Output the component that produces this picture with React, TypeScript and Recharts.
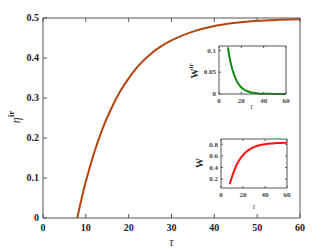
import { LineChart, Line, XAxis, YAxis, Label } from 'recharts'

// tau grid shared by all three curves
const tau = [8, 9, 10, 12, 14, 16, 18, 20, 22, 25, 28, 30, 35, 40, 45, 50, 55, 60]
const etaIr = [0, 0.048, 0.091, 0.165, 0.226, 0.275, 0.316, 0.349, 0.377, 0.409, 0.432, 0.444, 0.466, 0.48, 0.488, 0.493, 0.4955, 0.497]
const wIr = [0.107, 0.091, 0.077, 0.056, 0.041, 0.029, 0.021, 0.015, 0.011, 0.0068, 0.0042, 0.003, 0.0013, 0.0006, 0.0003, 0.0001, 0.00005, 0.00002]
const w = [0.11, 0.178, 0.24, 0.347, 0.435, 0.507, 0.565, 0.613, 0.652, 0.698, 0.733, 0.75, 0.782, 0.8, 0.813, 0.819, 0.823, 0.826]

const mainXTicks = [0, 10, 20, 30, 40, 50, 60]
const mainYTicks = [0, 0.1, 0.2, 0.3, 0.4, 0.5]
const insetXTicks = [0, 20, 40, 60]
const wIrTicks = [0, 0.05, 0.1]
const wTicks = [0.2, 0.4, 0.6, 0.8]

const data = tau.map((t, i) => ({ tau: t, eta: etaIr[i], wir: wIr[i], w: w[i] }))

const serif = '"Liberation Serif", "DejaVu Serif", serif'
const axisColor = '#555'
const noTick = () => <g />

// tick label renderers: side = 'x' (below axis) or 'y' (left of axis)
const makeTick = (size: number, side: 'x' | 'y', color: string) => (props: any) => {
    const { x, y, payload } = props
    if (side === 'x') {
        return (
            <text x={x} y={y} dy={size * 0.8} textAnchor="middle" fontFamily={serif} fontWeight={700} fontSize={size} fill={color}>
                {payload.value}
            </text>
        )
    }
    return (
        <text x={x} y={y} dy={size * 0.33} textAnchor="end" fontFamily={serif} fontWeight={700} fontSize={size} fill={color}>
            {payload.value}
        </text>
    )
}

const mainXTick = makeTick(10, 'x', '#222')
const mainYTick = makeTick(10, 'y', '#222')
const insetXTick = makeTick(7, 'x', '#444')
const insetYTick = makeTick(7, 'y', '#444')

export default function App() {
    return (
        <div style={{ position: 'absolute', left: 0, top: 0, width: 332, height: 249, background: '#fff' }}>
            {/* main plot */}
            <LineChart width={332} height={249} data={data} margin={{ top: 17, right: 31, bottom: 0, left: 0 }}>
                <XAxis
                    dataKey="tau"
                    type="number"
                    domain={[0, 60]}
                    ticks={mainXTicks}
                    interval={0}
                    height={31}
                    tickSize={-4}
                    tickMargin={9}
                    stroke={axisColor}
                    tick={mainXTick}
                >
                    <Label
                        content={() => (
                            <text x={171.5} y={246} textAnchor="middle" fontFamily={serif} fontStyle="italic" fontSize={12} fill="#333">
                                τ
                            </text>
                        )}
                    />
                </XAxis>
                <XAxis xAxisId="top" orientation="top" dataKey="tau" type="number" domain={[0, 60]} ticks={mainXTicks} interval={0} height={1} tickSize={-4} stroke={axisColor} tick={noTick} />
                <YAxis
                    type="number"
                    domain={[0, 0.5]}
                    ticks={mainYTicks}
                    interval={0}
                    width={43}
                    tickSize={-4}
                    tickMargin={8}
                    stroke={axisColor}
                    tick={mainYTick}
                >
                    <Label
                        content={() => (
                            <text transform="rotate(-90, 20, 117)" x={20} y={117} textAnchor="middle" fontFamily={serif} fill="#333">
                                <tspan fontStyle="italic" fontSize={12}>η</tspan>
                                <tspan fontSize={9} fontWeight={700} dy={-6}>ir</tspan>
                            </text>
                        )}
                    />
                </YAxis>
                <YAxis yAxisId="right" orientation="right" type="number" domain={[0, 0.5]} ticks={mainYTicks} interval={0} width={1} tickSize={-4} stroke={axisColor} tick={noTick} />
                <Line dataKey="eta" type="monotone" stroke="#b5440e" strokeWidth={2} dot={false} isAnimationActive={false} />
            </LineChart>

            {/* inset: W^ir */}
            <div style={{ position: 'absolute', left: 185, top: 38, width: 110, height: 80 }}>
                <LineChart width={110} height={80} data={data} margin={{ top: 7, right: 8, bottom: 0, left: 0 }}>
                    <XAxis dataKey="tau" type="number" domain={[0, 60]} ticks={insetXTicks} interval={0} height={24} tickSize={-2} tickMargin={5} stroke={axisColor} tick={insetXTick}>
                        <Label
                            content={() => (
                                <text x={66.5} y={71} textAnchor="middle" fontFamily={serif} fontStyle="italic" fontSize={8} fill="#555">
                                    τ
                                </text>
                            )}
                        />
                    </XAxis>
                    <XAxis xAxisId="top" orientation="top" dataKey="tau" type="number" domain={[0, 60]} ticks={insetXTicks} interval={0} height={1} tickSize={-2} stroke={axisColor} tick={noTick} />
                    <YAxis type="number" domain={[0, 0.11]} ticks={wIrTicks} interval={0} width={34} tickSize={-2} tickMargin={5} stroke={axisColor} tick={insetYTick}>
                        <Label
                            content={() => (
                                <text transform="rotate(-90, 13, 33)" x={13} y={33} textAnchor="middle" fontFamily={serif} fontWeight={700} fill="#333">
                                    <tspan fontSize={10}>W</tspan>
                                    <tspan fontSize={7} dy={-5}>ir</tspan>
                                </text>
                            )}
                        />
                    </YAxis>
                    <YAxis yAxisId="right" orientation="right" type="number" domain={[0, 0.11]} ticks={wIrTicks} interval={0} width={1} tickSize={-2} stroke={axisColor} tick={noTick} />
                    <Line dataKey="wir" type="monotone" stroke="#108c10" strokeWidth={2} dot={false} isAnimationActive={false} />
                </LineChart>
            </div>

            {/* inset: W */}
            <div style={{ position: 'absolute', left: 185, top: 132, width: 110, height: 82 }}>
                <LineChart width={110} height={82} data={data} margin={{ top: 6, right: 7, bottom: 0, left: 0 }}>
                    <XAxis dataKey="tau" type="number" domain={[0, 60]} ticks={insetXTicks} interval={0} height={26} tickSize={-2} tickMargin={5} stroke={axisColor} tick={insetXTick}>
                        <Label
                            content={() => (
                                <text x={69} y={77} textAnchor="middle" fontFamily={serif} fontStyle="italic" fontSize={8} fill="#555">
                                    τ
                                </text>
                            )}
                        />
                    </XAxis>
                    <XAxis xAxisId="top" orientation="top" dataKey="tau" type="number" domain={[0, 60]} ticks={insetXTicks} interval={0} height={1} tickSize={-2} stroke={axisColor} tick={noTick} />
                    <YAxis type="number" domain={[0.046, 0.89]} ticks={wTicks} interval={0} width={36} tickSize={-2} tickMargin={5} stroke={axisColor} tick={insetYTick} allowDataOverflow>
                        <Label
                            content={() => (
                                <text transform="rotate(-90, 18, 31)" x={18} y={31} textAnchor="middle" fontFamily={serif} fontWeight={700} fontSize={10} fill="#333">
                                    W
                                </text>
                            )}
                        />
                    </YAxis>
                    <YAxis yAxisId="right" orientation="right" type="number" domain={[0.046, 0.89]} ticks={wTicks} interval={0} width={1} tickSize={-2} stroke={axisColor} tick={noTick} allowDataOverflow />
                    <Line dataKey="w" type="monotone" stroke="#ff1010" strokeWidth={2} dot={false} isAnimationActive={false} />
                </LineChart>
            </div>
        </div>
    )
}
